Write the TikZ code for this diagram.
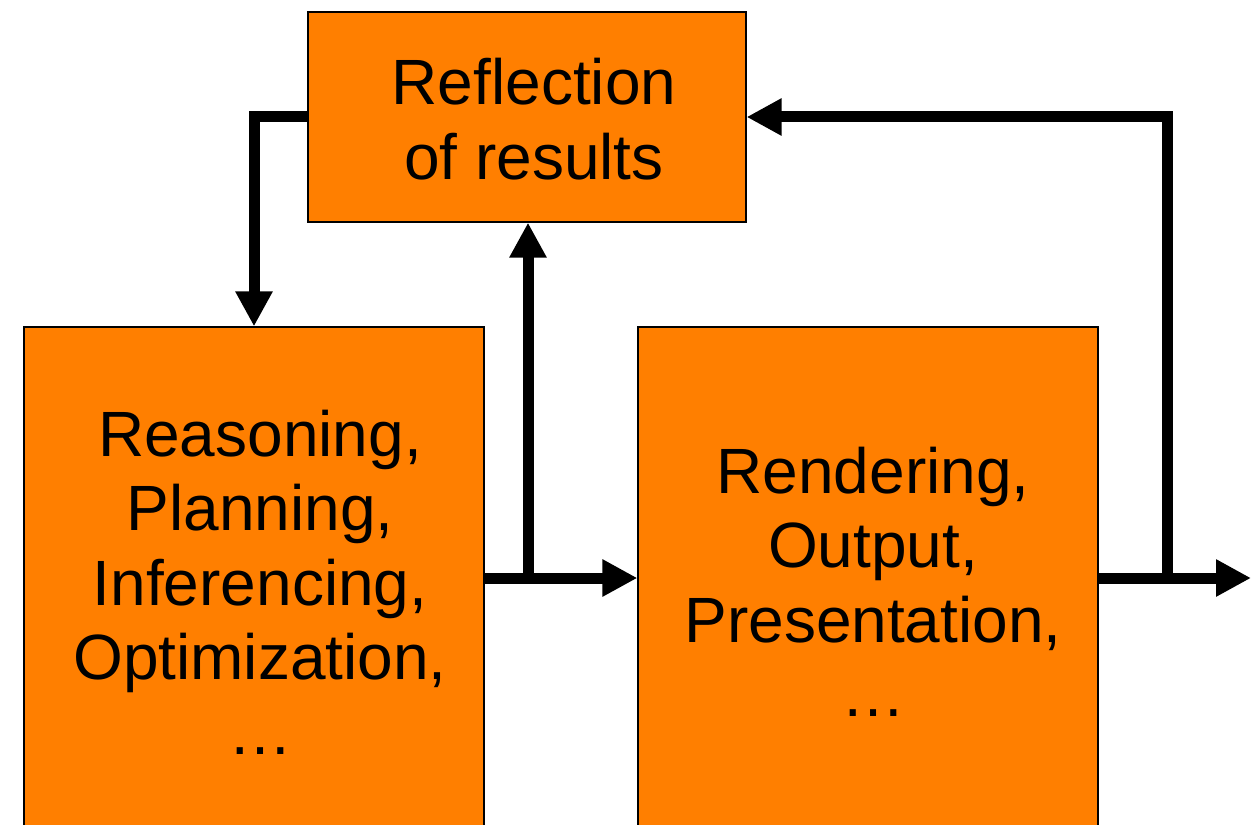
\documentclass[tikz,border=0pt]{standalone}
\usepackage{fontspec}
\setmainfont{Liberation Sans}
\usetikzlibrary{arrows.meta}
\definecolor{boxorange}{HTML}{FF7F00}
\begin{document}
\begin{tikzpicture}[x=1pt,y=-1pt,
  box/.style={draw=black,line width=1.2pt,fill=boxorange,inner sep=0pt},
  lbl/.style={align=center,font=\fontsize{64}{74.5}\selectfont,inner sep=0pt},
  wire/.style={line width=11pt},
  arr/.style={line width=11pt,-{Triangle[length=35pt,width=35pt]}}]
\useasboundingbox (0,0) rectangle (1252,824);
\clip (0,0) rectangle (1252,824);
\node[box,minimum width=438pt,minimum height=210pt] (top) at (527,117) {};
\node[box,minimum width=460pt,minimum height=600pt] (left) at (254,627) {};
\node[box,minimum width=460pt,minimum height=600pt] (right) at (868,627) {};
\node[lbl] (ttop) at (534,119) {Reflection\\of results};
\node[lbl] (tleft) at (260,582) {Reasoning,\\Planning,\\Inferencing,\\Optimization,\\…};
\node[lbl] (tright) at (873,582) {Rendering,\\Output,\\Presentation,\\…};
\coordinate (j1) at (528,578);
\coordinate (j2) at (1167,578);
\coordinate (out) at (1251,578);
\draw[arr] (top.west) -| (left.north);
\draw[wire] (left.east |- j1) -- (j1);
\draw[arr] (j1) -- (right.west |- j1);
\draw[arr] (j1) -- (j1 |- top.south);
\draw[wire] (right.east |- j2) -- (j2);
\draw[arr] (j2) -- (out);
\draw[arr] (j2) |- (top.east);
\end{tikzpicture}
\end{document}
